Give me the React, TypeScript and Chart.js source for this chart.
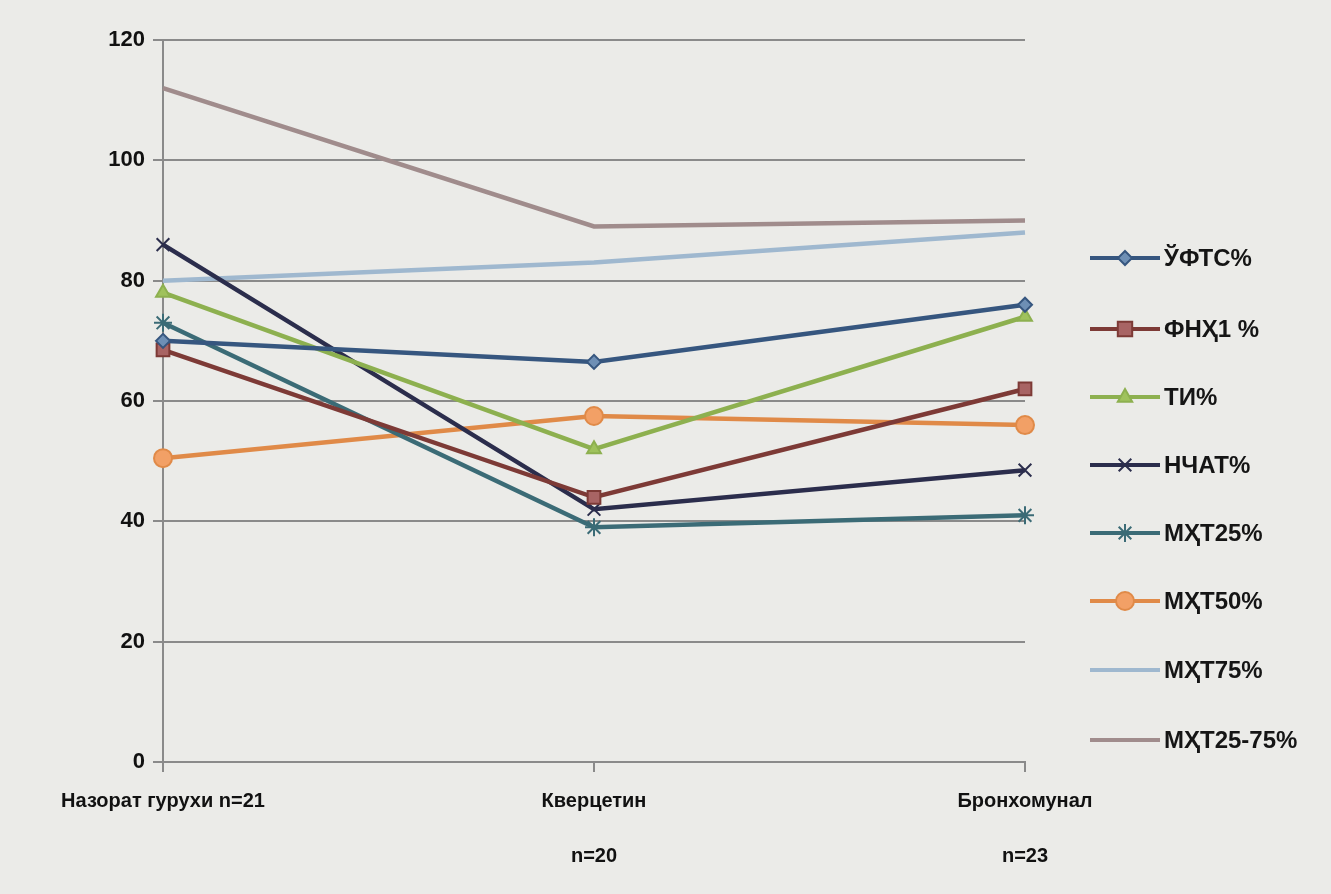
import React, { useEffect, useRef } from "react";
import { Chart, registerables } from "chart.js";

Chart.register(...registerables);

const categories: string[][] = [["Назорат гурухи n=21"], ["Кверцетин", "n=20"], ["Бронхомунал", "n=23"]];
const seriesNames = ["ЎФТС%", "ФНҲ1 %", "ТИ%", "НЧАТ%", "МҲТ25%", "МҲТ50%", "МҲТ75%", "МҲТ25-75%"];
const ufts = [70, 66.5, 76];
const fnh1 = [68.5, 44, 62];
const ti = [78, 52, 74];
const nchat = [86, 42, 48.5];
const mht25 = [73, 39, 41];
const mht50 = [50.5, 57.5, 56];
const mht75 = [80, 83, 88];
const mht2575 = [112, 89, 90];
const yTicks = [0, 20, 40, 60, 80, 100, 120];

const colors = ["#36567f", "#7d3a36", "#8db04f", "#2b2d4c", "#3b6b76", "#e08a48", "#9fb8cf", "#a08c8c"];
const fills = ["#6e8fb5", "#a86464", "#9fc25c", "#2b2d4c", "#5c8f9a", "#f2a066", "#9fb8cf", "#a08c8c"];
const markers: any[] = ["rectRot", "rect", "triangle", "crossRot", "star", "circle", false, false];
const radii = [7, 9, 8, 9, 9, 9, 0, 0];
const values = [ufts, fnh1, ti, nchat, mht25, mht50, mht75, mht2575];

const FONT = "'Liberation Sans Narrow', 'Liberation Sans', Arial, sans-serif";

function marker(ctx: CanvasRenderingContext2D, style: string, r: number, x: number, y: number) {
  ctx.beginPath();
  if (style === "rectRot") {
    ctx.moveTo(x, y - r); ctx.lineTo(x + r, y); ctx.lineTo(x, y + r); ctx.lineTo(x - r, y); ctx.closePath();
    ctx.fill(); ctx.stroke();
  } else if (style === "rect") {
    const s = r * 0.8;
    ctx.rect(x - s, y - s, 2 * s, 2 * s); ctx.fill(); ctx.stroke();
  } else if (style === "triangle") {
    ctx.moveTo(x, y - r); ctx.lineTo(x + r * 0.9, y + r * 0.6); ctx.lineTo(x - r * 0.9, y + r * 0.6); ctx.closePath();
    ctx.fill(); ctx.stroke();
  } else if (style === "crossRot") {
    const s = r * 0.7;
    ctx.moveTo(x - s, y - s); ctx.lineTo(x + s, y + s); ctx.moveTo(x + s, y - s); ctx.lineTo(x - s, y + s); ctx.stroke();
  } else if (style === "star") {
    const s = r * 0.7;
    ctx.moveTo(x - s, y - s); ctx.lineTo(x + s, y + s); ctx.moveTo(x + s, y - s); ctx.lineTo(x - s, y + s);
    ctx.moveTo(x, y - r); ctx.lineTo(x, y + r); ctx.stroke();
  } else if (style === "circle") {
    ctx.arc(x, y, r, 0, Math.PI * 2); ctx.fill(); ctx.stroke();
  }
}

const legendY = [258, 329, 397, 465, 533, 601, 670, 740];

const legendPlugin = {
  id: "customLegend",
  afterDraw(chart: any) {
    const ctx = chart.ctx;
    const x0 = 1090;
    ctx.save();
    chart.data.datasets.forEach((ds: any, i: number) => {
      const y = legendY[i];
      ctx.strokeStyle = ds.borderColor;
      ctx.lineWidth = 4;
      ctx.beginPath();
      ctx.moveTo(x0, y);
      ctx.lineTo(x0 + 70, y);
      ctx.stroke();
      if (ds.pointStyle) {
        ctx.fillStyle = ds.pointBackgroundColor;
        ctx.strokeStyle = ds.borderColor;
        ctx.lineWidth = 2;
        marker(ctx, ds.pointStyle, ds.pointRadius, x0 + 35, y);
      }
      ctx.fillStyle = "#151515";
      ctx.font = "bold 24px " + FONT;
      ctx.textBaseline = "middle";
      ctx.textAlign = "left";
      ctx.fillText(ds.label, x0 + 74, y + 1);
    });
    ctx.restore();
  },
};

const bgPlugin = {
  id: "bg",
  beforeDraw(chart: any) {
    const ctx = chart.ctx;
    ctx.save();
    ctx.fillStyle = "#ebebe8";
    ctx.fillRect(0, 0, chart.width, chart.height);
    ctx.restore();
  },
};

export default function App() {
  const ref = useRef<HTMLCanvasElement>(null);
  useEffect(() => {
    if (!ref.current) return;
    const chart = new Chart(ref.current, {
      type: "line",
      data: {
        labels: categories,
        datasets: seriesNames.map((name, i) => ({
          label: name,
          data: values[i],
          borderColor: colors[i],
          backgroundColor: fills[i],
          pointBackgroundColor: fills[i],
          pointBorderColor: colors[i],
          pointStyle: markers[i],
          pointRadius: radii[i],
          pointBorderWidth: 2,
          borderWidth: 4.5,
          tension: 0,
          fill: false,
        })),
      },
      options: {
        responsive: false,
        animation: false,
        layout: { padding: { top: 40, right: 306, bottom: 0, left: 0 } },
        plugins: { legend: { display: false }, tooltip: { enabled: false } },
        scales: {
          x: {
            offset: false,
            afterFit: (axis: any) => {
              axis.height = 132;
            },
            grid: { drawOnChartArea: false, color: "#8a8a8a", lineWidth: 2, tickLength: 10 },
            border: { color: "#8a8a8a", width: 2 },
            ticks: { color: "#111", font: { family: FONT, size: 20, weight: "bold", lineHeight: 2.75 }, padding: 2, maxRotation: 0 },
          },
          y: {
            min: 0,
            max: 120,
            afterFit: (axis: any) => {
              axis.width = 163;
            },
            afterBuildTicks: (axis: any) => {
              axis.ticks = yTicks.map((v) => ({ value: v }));
            },
            grid: { color: "#8a8a8a", lineWidth: 2, tickLength: 10 },
            border: { color: "#8a8a8a", width: 2 },
            ticks: { color: "#111", font: { family: FONT, size: 22, weight: "bold" }, padding: 8 },
          },
        },
      },
      plugins: [bgPlugin, legendPlugin],
    });
    return () => chart.destroy();
  }, []);
  return (
    <div style={{ position: "fixed", left: 0, top: 0, width: 1331, height: 894, background: "#ebebe8" }}>
      <canvas ref={ref} width={1331} height={894} />
    </div>
  );
}
